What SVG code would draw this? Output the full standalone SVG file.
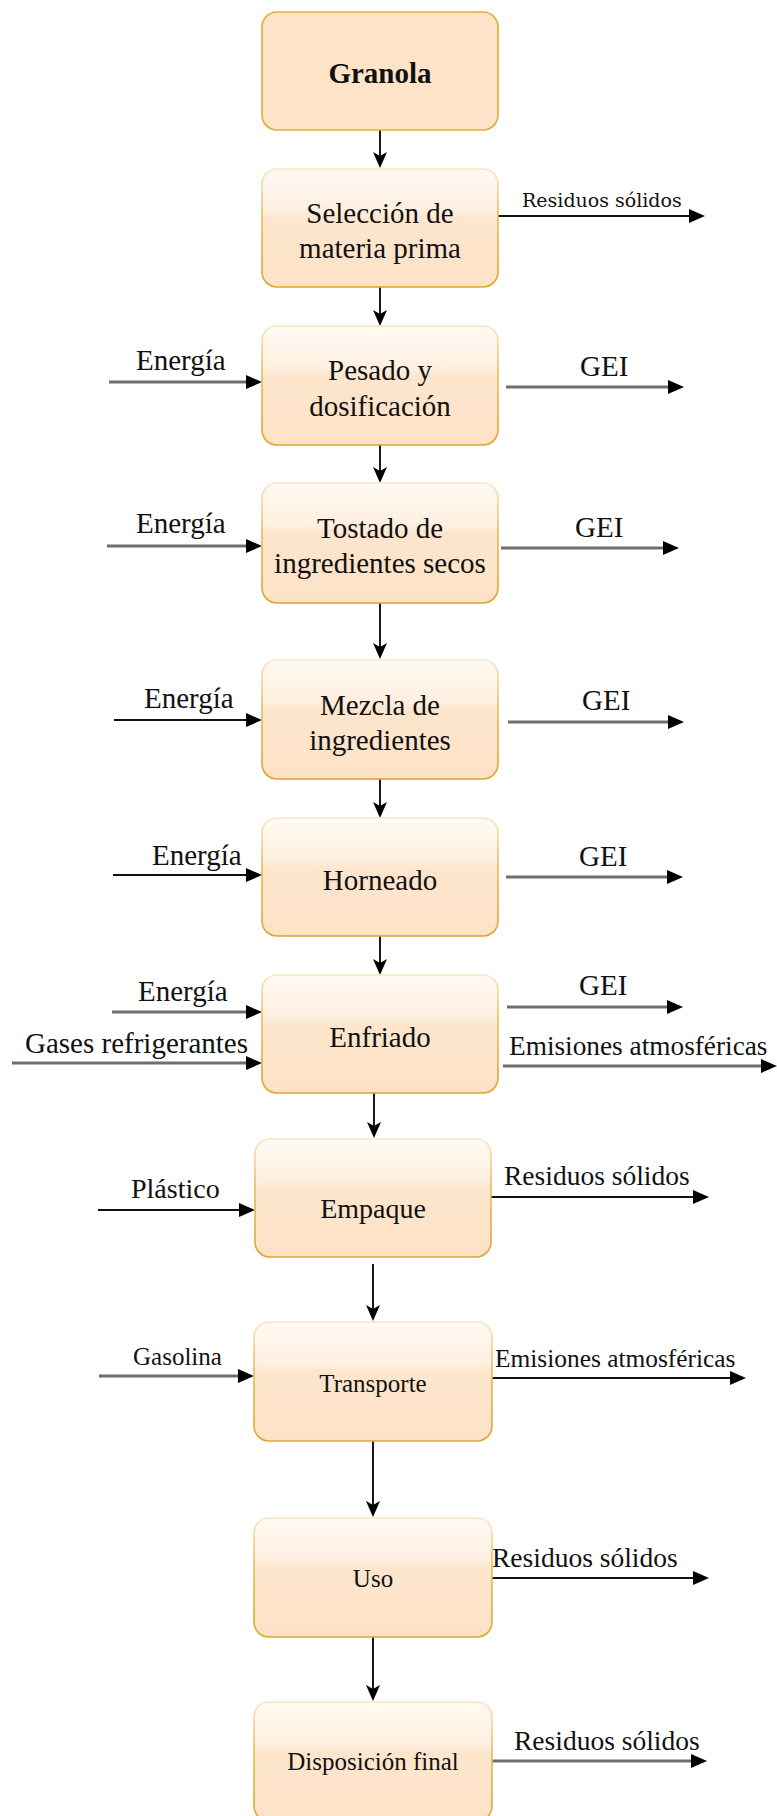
<svg xmlns="http://www.w3.org/2000/svg" width="777" height="1816" viewBox="0 0 777 1816">
  <defs>
    <!-- glossy orange process box -->
    <linearGradient id="glass" x1="0" y1="0" x2="0" y2="1">
      <stop offset="0" stop-color="#fffaf4"/>
      <stop offset="0.36" stop-color="#ffefdf"/>
      <stop offset="0.42" stop-color="#fde6cd"/>
      <stop offset="1" stop-color="#fde2c6"/>
    </linearGradient>
    <linearGradient id="edge" x1="0" y1="0" x2="0" y2="1">
      <stop offset="0" stop-color="#f8e6c4"/>
      <stop offset="0.4" stop-color="#e9bb55"/>
      <stop offset="1" stop-color="#dea42e"/>
    </linearGradient>
    <marker id="block" markerUnits="userSpaceOnUse" viewBox="0 0 16 14" markerWidth="16" markerHeight="14" refX="0" refY="7" orient="auto">
      <path d="M0,0 L16,7 L0,14 z" fill="#000"/>
    </marker>
    <marker id="classic" markerUnits="userSpaceOnUse" viewBox="0 0 16 14" markerWidth="16" markerHeight="14" refX="4" refY="7" orient="auto">
      <path d="M0,0 L16,7 L0,14 L4,7 z" fill="#000"/>
    </marker>
    <style>
      .box { fill: url(#glass); stroke: url(#edge); stroke-width: 1.6; }
      .plain { fill: #fde4c8; stroke: #e2ac3c; stroke-width: 1.6; }
      .t { font-family: "Liberation Serif", "Times New Roman", serif; fill: #111; text-anchor: middle; }
      .lbl { font-family: "Liberation Serif", "Times New Roman", serif; fill: #111; }
      .slab { font-family: "DejaVu Serif", serif; fill: #111; }
      .v { stroke: #000; stroke-width: 1.8; fill: none; marker-end: url(#classic); }
      .g { stroke: #6f6f6f; stroke-width: 3; fill: none; marker-end: url(#block); }
      .k { stroke: #111; stroke-width: 2; fill: none; marker-end: url(#block); }
    </style>
  </defs>

  <rect width="777" height="1816" fill="#fff"/>

  <!-- connectors -->
  <g id="connectors">
    <!-- main flow -->
    <line class="v" x1="380" y1="130" x2="380" y2="156"/>
    <line class="v" x1="380" y1="287" x2="380" y2="314"/>
    <line class="v" x1="380" y1="445" x2="380" y2="471"/>
    <line class="v" x1="380" y1="603" x2="380" y2="647"/>
    <line class="v" x1="380" y1="779" x2="380" y2="806"/>
    <line class="v" x1="380" y1="936" x2="380" y2="963"/>
    <line class="v" x1="374" y1="1093" x2="374" y2="1126"/>
    <line class="v" x1="373" y1="1264" x2="373" y2="1309"/>
    <line class="v" x1="373" y1="1441" x2="373" y2="1505"/>
    <line class="v" x1="373" y1="1637" x2="373" y2="1689"/>

    <!-- inputs -->
    <line class="g" x1="109" y1="382" x2="246" y2="382"/>
    <line class="g" x1="107" y1="546" x2="246" y2="546"/>
    <line class="k" x1="114" y1="720" x2="246" y2="720"/>
    <line class="k" x1="113" y1="875" x2="246" y2="875"/>
    <line class="g" x1="112" y1="1012" x2="246" y2="1012"/>
    <line class="g" x1="12" y1="1063" x2="246" y2="1063"/>
    <line class="k" x1="98" y1="1210" x2="239" y2="1210"/>
    <line class="g" x1="99" y1="1376" x2="238" y2="1376"/>

    <!-- outputs -->
    <line class="k" x1="498" y1="216" x2="689" y2="216"/>
    <line class="g" x1="506" y1="387" x2="668" y2="387"/>
    <line class="g" x1="501" y1="548" x2="663" y2="548"/>
    <line class="g" x1="508" y1="722" x2="668" y2="722"/>
    <line class="g" x1="506" y1="877" x2="667" y2="877"/>
    <line class="g" x1="507" y1="1007" x2="667" y2="1007"/>
    <line class="g" x1="503" y1="1066" x2="761" y2="1066"/>
    <line class="k" x1="491" y1="1197" x2="693" y2="1197"/>
    <line class="k" x1="492" y1="1378" x2="730" y2="1378"/>
    <line class="k" x1="492" y1="1578" x2="693" y2="1578"/>
    <line class="g" x1="492" y1="1761" x2="691" y2="1761"/>
  </g>

  <!-- flow labels -->
  <g id="labels">
    <text class="slab" x="522" y="207" font-size="19">Residuos sólidos</text>

    <text class="lbl" x="136" y="370" font-size="29">Energía</text>
    <text class="lbl" x="580" y="376" font-size="29">GEI</text>

    <text class="lbl" x="136" y="533" font-size="29">Energía</text>
    <text class="lbl" x="575" y="537" font-size="29">GEI</text>

    <text class="lbl" x="144" y="708" font-size="29">Energía</text>
    <text class="lbl" x="582" y="710" font-size="29">GEI</text>

    <text class="lbl" x="152" y="865" font-size="29">Energía</text>
    <text class="lbl" x="579" y="866" font-size="29">GEI</text>

    <text class="lbl" x="138" y="1001" font-size="29">Energía</text>
    <text class="lbl" x="25" y="1053" font-size="29">Gases refrigerantes</text>
    <text class="lbl" x="579" y="995" font-size="29">GEI</text>
    <text class="lbl" x="509" y="1055" font-size="27.3">Emisiones atmosféricas</text>

    <text class="lbl" x="131" y="1198" font-size="28">Plástico</text>
    <text class="lbl" x="504" y="1185" font-size="27.5">Residuos sólidos</text>

    <text class="lbl" x="133" y="1365" font-size="25">Gasolina</text>
    <text class="lbl" x="495" y="1367" font-size="25.4">Emisiones atmosféricas</text>

    <text class="lbl" x="492" y="1567" font-size="27.5">Residuos sólidos</text>
    <text class="lbl" x="514" y="1750" font-size="27.5">Residuos sólidos</text>
  </g>

  <!-- process steps -->
  <g id="granola">
    <rect class="plain" x="262" y="12" width="236" height="118" rx="15"/>
    <text class="t" x="380" y="83" font-size="29" font-weight="bold">Granola</text>
  </g>
  <g id="seleccion">
    <rect class="box" x="262" y="169" width="236" height="118" rx="15"/>
    <text class="t" x="380" y="223" font-size="29">Selección de</text>
    <text class="t" x="380" y="258" font-size="29">materia prima</text>
  </g>
  <g id="pesado">
    <rect class="box" x="262" y="326" width="236" height="119" rx="15"/>
    <text class="t" x="380" y="380" font-size="29">Pesado y</text>
    <text class="t" x="380" y="416" font-size="29">dosificación</text>
  </g>
  <g id="tostado">
    <rect class="box" x="262" y="483" width="236" height="120" rx="15"/>
    <text class="t" x="380" y="538" font-size="29">Tostado de</text>
    <text class="t" x="380" y="573" font-size="29">ingredientes secos</text>
  </g>
  <g id="mezcla">
    <rect class="box" x="262" y="660" width="236" height="119" rx="15"/>
    <text class="t" x="380" y="715" font-size="29">Mezcla de</text>
    <text class="t" x="380" y="750" font-size="29">ingredientes</text>
  </g>
  <g id="horneado">
    <rect class="box" x="262" y="818" width="236" height="118" rx="15"/>
    <text class="t" x="380" y="890" font-size="29">Horneado</text>
  </g>
  <g id="enfriado">
    <rect class="box" x="262" y="975" width="236" height="118" rx="15"/>
    <text class="t" x="380" y="1047" font-size="29">Enfriado</text>
  </g>
  <g id="empaque">
    <rect class="box" x="255" y="1139" width="236" height="118" rx="15"/>
    <text class="t" x="373" y="1218" font-size="28">Empaque</text>
  </g>
  <g id="transporte">
    <rect class="box" x="254" y="1322" width="238" height="119" rx="15"/>
    <text class="t" x="373" y="1392" font-size="25">Transporte</text>
  </g>
  <g id="uso">
    <rect class="box" x="254" y="1518" width="238" height="119" rx="15"/>
    <text class="t" x="373" y="1587" font-size="25">Uso</text>
  </g>
  <g id="disposicion">
    <rect class="box" x="254" y="1702" width="238" height="119" rx="15"/>
    <text class="t" x="373" y="1770" font-size="25">Disposición final</text>
  </g>
</svg>
